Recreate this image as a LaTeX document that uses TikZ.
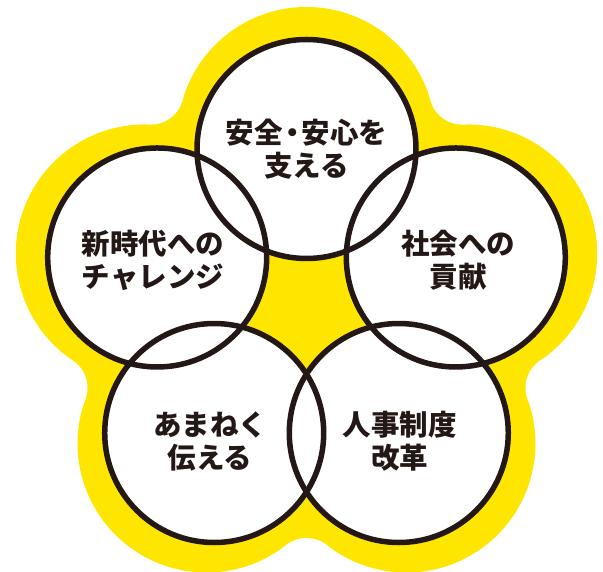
\documentclass[tikz,border=0pt]{standalone}
\usepackage{fontspec}
\newfontfamily\jp{Noto Sans CJK JP}
\usetikzlibrary{calc}
\definecolor{ylw}{HTML}{FFE600}
\definecolor{ink}{HTML}{231815}
\begin{document}
\begin{tikzpicture}[x=1pt,y=1pt,
  lbl/.style={font=\jp\bfseries\fontsize{28.5}{33}\selectfont, align=center, text=ink, inner sep=0pt},
  ring/.style={draw=ink, line width=5.5pt}]
\useasboundingbox (0,0) rectangle (603,572);
\coordinate (O) at (306.5,266);
\foreach \a [count=\i] in {90,162,234,306,18} {
  \coordinate (c\i) at ($(O)+(\a:157)$);
  \coordinate (y\i) at ($(O)+(\a:170)$);
  \coordinate (f\i) at ($(O)+({\a+36}:265)$);
}
% yellow blob
\fill[ylw] (y1) -- (y2) -- (y3) -- (y4) -- (y5) -- cycle;
\foreach \i in {1,...,5} \fill[ylw] (y\i) circle (129pt);
\foreach \i/\j in {1/2,2/3,3/4,4/5,5/1} \fill[ylw] (y\i) -- (f\i) -- (y\j) -- cycle;
\foreach \i in {1,...,5} \fill[white] (f\i) circle (33pt);
% circles
\foreach \i in {1,...,5} \fill[white] (c\i) circle (109.5pt);
\foreach \i in {1,...,5} \draw[ring] (c\i) circle (109.5pt);
% labels
\node[lbl] (t1) at (306.5,422.5) {安全\kern-0.17em・\kern-0.17em安心を\\支える};
\node[lbl] (t2) at (153,312) {新時代への\\チャレンジ};
\node[lbl] (t3) at (458,312) {社会への\\貢献};
\node[lbl] (t4) at (210,131) {あまねく\\伝える};
\node[lbl] (t5) at (399.5,131) {人事制度\\改革};
\end{tikzpicture}
\end{document}
